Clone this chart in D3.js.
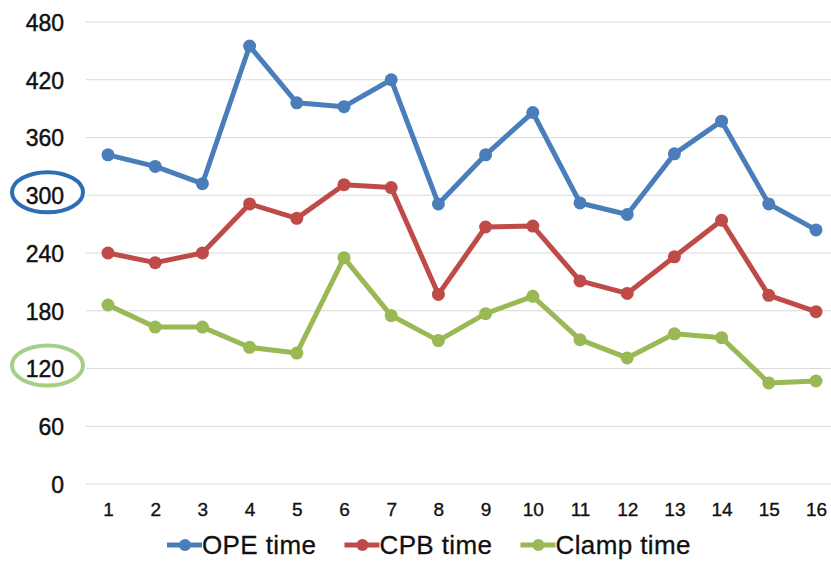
<!DOCTYPE html>
<html>
<head>
<meta charset="utf-8">
<script src="https://cdn.jsdelivr.net/npm/d3@7"></script>
<style>
  html, body { margin: 0; padding: 0; background: #fff; }
  svg { display: block; font-family: "Liberation Sans", Arial, sans-serif; }
</style>
</head>
<body>
<svg id="chart" width="831" height="561"></svg>
<script>
// Case numbers along the x axis
const cases = [1, 2, 3, 4, 5, 6, 7, 8, 9, 10, 11, 12, 13, 14, 15, 16];

// Durations (minutes) per case
const opeTime   = [342, 330, 312, 455, 396, 392, 420, 291, 342, 386, 292, 280, 343, 377, 291, 264];
const cpbTime   = [240, 230, 240, 291, 276, 311, 308, 197, 267, 268, 211, 198, 236, 274, 196, 179];
const clampTime = [186, 163, 163, 142, 136, 235, 175, 149, 177, 195, 150, 131, 156, 152, 105, 107];

const seriesNames  = ["OPE time", "CPB time", "Clamp time"];
const seriesColors = ["#4a7ebb", "#be4b48", "#98b954"];

const yTicks = [0, 60, 120, 180, 240, 300, 360, 420, 480];
// Tick values called out with a ring, and the ring colour
const highlightTicks  = [300, 120];
const highlightColors = ["#2e6db4", "#a6cf85"];

const series = [opeTime, cpbTime, clampTime].map((vals, i) => ({
  name: seriesNames[i],
  color: seriesColors[i],
  values: vals.map((v, j) => ({ x: cases[j], y: v }))
}));

const svg = d3.select("#chart");

const x = d3.scalePoint().domain(cases).range([108, 816]);
const y = d3.scaleLinear().domain([0, 480]).range([484, 22]);

// Horizontal gridlines
svg.append("g")
  .selectAll("line")
  .data(yTicks)
  .join("line")
  .attr("x1", 86).attr("x2", 831)
  .attr("y1", d => y(d)).attr("y2", d => y(d))
  .attr("stroke", "#d9d9d9").attr("stroke-width", 1.2);

// Y axis labels
const yAxis = svg.append("g")
  .attr("transform", "translate(64,0)")
  .call(d3.axisLeft(y).tickValues(yTicks).tickSize(0).tickPadding(0));
yAxis.select(".domain").remove();
yAxis.selectAll("text")
  .attr("font-size", 23)
  .attr("font-family", "Liberation Sans, Arial, sans-serif")
  .attr("fill", "#111")
  .attr("stroke", "#111")
  .attr("stroke-width", 0.45)
  .attr("dy", "0.36em");

// X axis labels
const xAxis = svg.append("g")
  .attr("transform", "translate(0,500)")
  .call(d3.axisBottom(x).tickSize(0).tickPadding(0));
xAxis.select(".domain").remove();
xAxis.selectAll("text")
  .attr("font-size", 19)
  .attr("font-family", "Liberation Sans, Arial, sans-serif")
  .attr("fill", "#111")
  .attr("stroke", "#111")
  .attr("stroke-width", 0.35)
  .attr("dy", "0.85em");

// Rings around highlighted tick labels
svg.append("g")
  .selectAll("ellipse")
  .data(highlightTicks)
  .join("ellipse")
  .attr("cx", 47.5)
  .attr("cy", d => y(d) - 3)
  .attr("rx", 35.5)
  .attr("ry", 20)
  .attr("fill", "none")
  .attr("stroke", (d, i) => highlightColors[i])
  .attr("stroke-width", 4);

// Lines and markers
const line = d3.line().x(d => x(d.x)).y(d => y(d.y));

const sg = svg.append("g")
  .selectAll("g")
  .data(series)
  .join("g");

sg.append("path")
  .attr("d", d => line(d.values))
  .attr("fill", "none")
  .attr("stroke", d => d.color)
  .attr("stroke-width", 5)
  .attr("stroke-linejoin", "round");

sg.selectAll("circle")
  .data(d => d.values.map(v => ({ ...v, color: d.color })))
  .join("circle")
  .attr("cx", d => x(d.x))
  .attr("cy", d => y(d.y))
  .attr("r", 6.5)
  .attr("fill", d => d.color);

// Legend
const legend = svg.append("g").attr("transform", "translate(0,545)");
let cursor = 167;
series.forEach(s => {
  const item = legend.append("g").attr("transform", `translate(${cursor},0)`);
  item.append("line")
    .attr("x1", 0).attr("x2", 35)
    .attr("y1", 0).attr("y2", 0)
    .attr("stroke", s.color).attr("stroke-width", 5);
  item.append("circle")
    .attr("cx", 18).attr("cy", 0).attr("r", 6)
    .attr("fill", s.color);
  const t = item.append("text")
    .attr("x", 35).attr("y", 0)
    .attr("dy", "0.33em")
    .attr("font-size", 26)
    .attr("letter-spacing", 0.4)
    .attr("fill", "#111")
    .attr("stroke", "#111")
    .attr("stroke-width", 0.3)
    .text(s.name);
  cursor += 35 + t.node().getComputedTextLength() + 28;
});
</script>
</body>
</html>
